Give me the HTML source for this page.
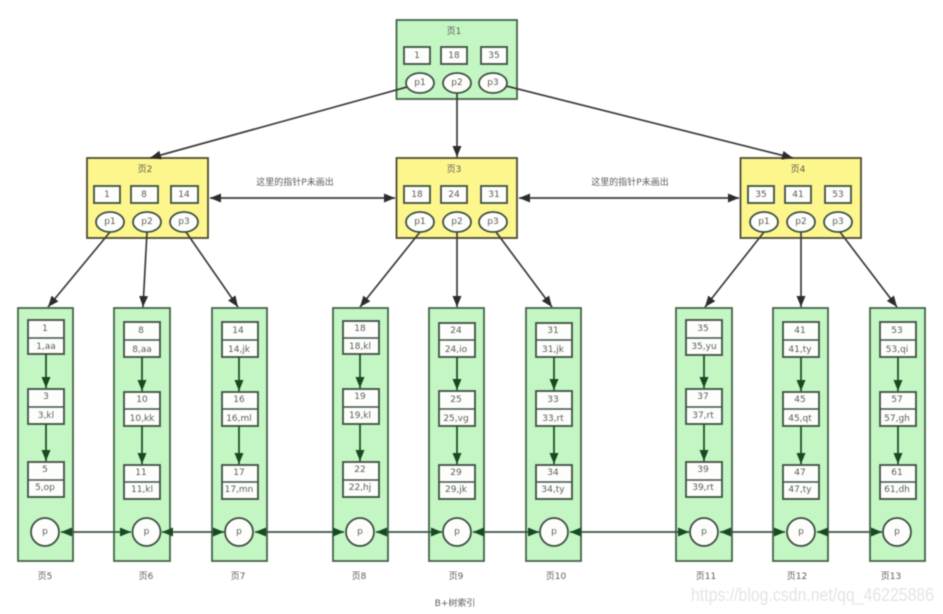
<!DOCTYPE html>
<html>
<head>
<meta charset="utf-8">
<style>
html,body{margin:0;padding:0;background:#fff;width:943px;height:614px;overflow:hidden}
svg{display:block;filter:blur(.55px)}
text{font-family:"DejaVu Sans","Noto Sans CJK SC",sans-serif;font-size:9px;fill:#5c5c5c;text-anchor:middle;dominant-baseline:central}
.g{fill:#c4f6c4;stroke:#446448;stroke-width:1.8}
.y{fill:#fdf68c;stroke:#4c4c34;stroke-width:1.8}
.b{fill:#fdfdfb;stroke:#3e5042;stroke-width:1.8}
.l{fill:none;stroke:#3e5444;stroke-width:1.4}
.a{fill:none;stroke:#3c3c3c;stroke-width:1.7;marker-end:url(#m)}
.d{fill:none;stroke:#3c3c3c;stroke-width:1.7;marker-start:url(#ms);marker-end:url(#m)}
.n{fill:none;stroke:#174a22;stroke-width:1.7;marker-end:url(#mg)}
.h{fill:none;stroke:#3a563f;stroke-width:1.7;marker-start:url(#mgs);marker-end:url(#mg)}
</style>
</head>
<body>
<svg width="943" height="614" viewBox="0 0 943 614" xmlns="http://www.w3.org/2000/svg">
<defs>
<marker id="m" markerWidth="12" markerHeight="9" refX="11" refY="4.5" orient="auto" markerUnits="userSpaceOnUse"><path d="M0 0L11 4.5L0 9z" fill="#2c2c2c"/></marker>
<marker id="ms" markerWidth="12" markerHeight="9" refX="0" refY="4.5" orient="auto" markerUnits="userSpaceOnUse"><path d="M11 0L0 4.5L11 9z" fill="#2c2c2c"/></marker>
<marker id="mg" markerWidth="12" markerHeight="9" refX="11" refY="4.5" orient="auto" markerUnits="userSpaceOnUse"><path d="M0 0L11 4.5L0 9z" fill="#174a22"/></marker>
<marker id="mgs" markerWidth="12" markerHeight="9" refX="0" refY="4.5" orient="auto" markerUnits="userSpaceOnUse"><path d="M11 0L0 4.5L11 9z" fill="#174a22"/></marker>
</defs>

<!-- Upper pages -->
<rect class="g" x="396.5" y="20" width="120.5" height="79"/>
<rect class="y" x="87" y="158" width="121" height="80"/>
<rect class="y" x="396.5" y="158" width="120.5" height="80"/>
<rect class="y" x="740.5" y="158" width="120.5" height="80"/>

<!-- Leaf pages -->
<rect class="g" x="18" y="308" width="55" height="253"/>
<rect class="g" x="114" y="308" width="56" height="253"/>
<rect class="g" x="212" y="308" width="55" height="253"/>
<rect class="g" x="333" y="308" width="55" height="253"/>
<rect class="g" x="429" y="308" width="55" height="253"/>
<rect class="g" x="526" y="308" width="55" height="253"/>
<rect class="g" x="676" y="308" width="56" height="253"/>
<rect class="g" x="773" y="308" width="55" height="253"/>
<rect class="g" x="870" y="308" width="55" height="253"/>

<!-- Connectors between levels -->
<path class="a" d="M407 87L150 158"/>
<path class="a" d="M457 93L457 157"/>
<path class="a" d="M506 86L793 158"/>
<path class="a" d="M110 232L48 307"/>
<path class="a" d="M147 232L143 307"/>
<path class="a" d="M186 232L238 307"/>
<path class="a" d="M420 232L360 307"/>
<path class="a" d="M457 232L457 307"/>
<path class="a" d="M496 232L552 307"/>
<path class="a" d="M764 232L705 307"/>
<path class="a" d="M801 232L801 307"/>
<path class="a" d="M840 232L897 307"/>
<path class="d" d="M210 198L395 198"/>
<path class="d" d="M519 198L739 198"/>

<text x="295" y="183">这里的指针P未画出</text>
<text x="630" y="183">这里的指针P未画出</text>

<!-- Page 1 -->
<text x="454" y="32">页1</text>
<rect class="b" x="404" y="47" width="26" height="17"/><text x="417" y="56">1</text>
<rect class="b" x="441" y="47" width="26" height="17"/><text x="454" y="56">18</text>
<rect class="b" x="481" y="47" width="26" height="17"/><text x="494" y="56">35</text>
<ellipse class="b" cx="420" cy="83" rx="14" ry="10"/><text x="420" y="83">p1</text>
<ellipse class="b" cx="457" cy="83" rx="14" ry="10"/><text x="457" y="83">p2</text>
<ellipse class="b" cx="493" cy="83" rx="14" ry="10"/><text x="493" y="83">p3</text>

<!-- Page 2 -->
<text x="145" y="170">页2</text>
<rect class="b" x="94" y="186" width="26" height="17"/><text x="107" y="195">1</text>
<rect class="b" x="131" y="186" width="27" height="17"/><text x="144" y="195">8</text>
<rect class="b" x="171" y="186" width="27" height="17"/><text x="184" y="195">14</text>
<ellipse class="b" cx="110" cy="222" rx="14" ry="10"/><text x="110" y="222">p1</text>
<ellipse class="b" cx="147" cy="222" rx="14" ry="10"/><text x="147" y="222">p2</text>
<ellipse class="b" cx="184" cy="222" rx="14" ry="10"/><text x="184" y="222">p3</text>

<!-- Page 3 -->
<text x="454" y="170">页3</text>
<rect class="b" x="404" y="186" width="26" height="17"/><text x="417" y="195">18</text>
<rect class="b" x="441" y="186" width="26" height="17"/><text x="454" y="195">24</text>
<rect class="b" x="481" y="186" width="26" height="17"/><text x="494" y="195">31</text>
<ellipse class="b" cx="420" cy="222" rx="14" ry="10"/><text x="420" y="222">p1</text>
<ellipse class="b" cx="457" cy="222" rx="14" ry="10"/><text x="457" y="222">p2</text>
<ellipse class="b" cx="493" cy="222" rx="14" ry="10"/><text x="493" y="222">p3</text>

<!-- Page 4 -->
<text x="798" y="170">页4</text>
<rect class="b" x="748" y="186" width="26" height="17"/><text x="761" y="195">35</text>
<rect class="b" x="785" y="186" width="26" height="17"/><text x="798" y="195">41</text>
<rect class="b" x="825" y="186" width="26" height="17"/><text x="838" y="195">53</text>
<ellipse class="b" cx="764" cy="222" rx="14" ry="10"/><text x="764" y="222">p1</text>
<ellipse class="b" cx="801" cy="222" rx="14" ry="10"/><text x="801" y="222">p2</text>
<ellipse class="b" cx="838" cy="222" rx="14" ry="10"/><text x="838" y="222">p3</text>

<!-- Page 5 -->
<rect class="b" x="28" y="320" width="36" height="34"/><path class="l" d="M28 338H64"/><text x="45" y="329">1</text><text x="46" y="347">1,aa</text>
<rect class="b" x="28" y="389" width="36" height="35"/><path class="l" d="M28 407H64"/><text x="46" y="397">3</text><text x="46" y="416">3,kl</text>
<rect class="b" x="28" y="462" width="36" height="35"/><path class="l" d="M28 480H64"/><text x="45" y="470">5</text><text x="45" y="488">5,op</text>
<path class="n" d="M46 354V388"/><path class="n" d="M46 424V461"/>

<!-- Page 6 -->
<rect class="b" x="124" y="322" width="36" height="35"/><path class="l" d="M124 340H160"/><text x="141" y="331">8</text><text x="142" y="350">8,aa</text>
<rect class="b" x="124" y="392" width="36" height="34"/><path class="l" d="M124 409H160"/><text x="142" y="400">10</text><text x="142" y="419">10,kk</text>
<rect class="b" x="124" y="465" width="36" height="34"/><path class="l" d="M124 482H160"/><text x="141" y="473">11</text><text x="142" y="490">11,kl</text>
<path class="n" d="M142 357V391"/><path class="n" d="M142 426V464"/>

<!-- Page 7 -->
<rect class="b" x="222" y="322" width="36" height="35"/><path class="l" d="M222 340H258"/><text x="238" y="331">14</text><text x="239" y="350">14,jk</text>
<rect class="b" x="222" y="392" width="36" height="34"/><path class="l" d="M222 409H258"/><text x="239" y="400">16</text><text x="239" y="419">16,ml</text>
<rect class="b" x="222" y="465" width="36" height="34"/><path class="l" d="M222 482H258"/><text x="239" y="473">17</text><text x="239" y="490">17,mn</text>
<path class="n" d="M239 357V391"/><path class="n" d="M239 426V464"/>

<!-- Page 8 -->
<rect class="b" x="343" y="321" width="36" height="33"/><path class="l" d="M343 338H379"/><text x="360" y="329">18</text><text x="360" y="347">18,kl</text>
<rect class="b" x="343" y="389" width="36" height="35"/><path class="l" d="M343 407H379"/><text x="360" y="397">19</text><text x="360" y="416">19,kl</text>
<rect class="b" x="343" y="462" width="36" height="35"/><path class="l" d="M343 480H379"/><text x="360" y="470">22</text><text x="360" y="488">22,hj</text>
<path class="n" d="M360 354V388"/><path class="n" d="M360 424V461"/>

<!-- Page 9 -->
<rect class="b" x="439" y="323" width="36" height="34"/><path class="l" d="M439 340H475"/><text x="456" y="331">24</text><text x="456" y="350">24,io</text>
<rect class="b" x="439" y="391" width="36" height="35"/><path class="l" d="M439 409H475"/><text x="456" y="400">25</text><text x="456" y="419">25,vg</text>
<rect class="b" x="439" y="465" width="36" height="34"/><path class="l" d="M439 482H475"/><text x="456" y="473">29</text><text x="456" y="490">29,jk</text>
<path class="n" d="M457 357V390"/><path class="n" d="M457 426V464"/>

<!-- Page 10 -->
<rect class="b" x="536" y="323" width="36" height="34"/><path class="l" d="M536 340H572"/><text x="553" y="331">31</text><text x="553" y="350">31,jk</text>
<rect class="b" x="536" y="391" width="36" height="35"/><path class="l" d="M536 409H572"/><text x="553" y="400">33</text><text x="553" y="419">33,rt</text>
<rect class="b" x="536" y="465" width="36" height="34"/><path class="l" d="M536 482H572"/><text x="553" y="473">34</text><text x="553" y="490">34,ty</text>
<path class="n" d="M554 357V390"/><path class="n" d="M554 426V464"/>

<!-- Page 11 -->
<rect class="b" x="686" y="320" width="36" height="35"/><path class="l" d="M686 338H722"/><text x="703" y="329">35</text><text x="704" y="347">35,yu</text>
<rect class="b" x="686" y="389" width="36" height="35"/><path class="l" d="M686 407H722"/><text x="703" y="397">37</text><text x="703" y="416">37,rt</text>
<rect class="b" x="686" y="462" width="36" height="35"/><path class="l" d="M686 480H722"/><text x="703" y="470">39</text><text x="703" y="488">39,rt</text>
<path class="n" d="M704 355V388"/><path class="n" d="M704 424V461"/>

<!-- Page 12 -->
<rect class="b" x="783" y="322" width="36" height="35"/><path class="l" d="M783 340H819"/><text x="800" y="331">41</text><text x="800" y="350">41,ty</text>
<rect class="b" x="783" y="392" width="36" height="34"/><path class="l" d="M783 409H819"/><text x="800" y="400">45</text><text x="800" y="419">45,qt</text>
<rect class="b" x="783" y="465" width="36" height="34"/><path class="l" d="M783 482H819"/><text x="800" y="473">47</text><text x="800" y="490">47,ty</text>
<path class="n" d="M801 357V391"/><path class="n" d="M801 426V464"/>

<!-- Page 13 -->
<rect class="b" x="880" y="322" width="36" height="35"/><path class="l" d="M880 340H916"/><text x="897" y="331">53</text><text x="897" y="350">53,qi</text>
<rect class="b" x="880" y="392" width="36" height="34"/><path class="l" d="M880 409H916"/><text x="897" y="400">57</text><text x="897" y="419">57,gh</text>
<rect class="b" x="880" y="465" width="36" height="34"/><path class="l" d="M880 482H916"/><text x="897" y="473">61</text><text x="897" y="490">61,dh</text>
<path class="n" d="M898 357V391"/><path class="n" d="M898 426V464"/>

<!-- Sibling links -->
<path class="h" d="M61 532H131"/>
<path class="h" d="M162 532H224"/>
<path class="h" d="M255 532H344"/>
<path class="h" d="M376 532H442"/>
<path class="h" d="M473 532H539"/>
<path class="h" d="M570 532H689"/>
<path class="h" d="M720 532H785"/>
<path class="h" d="M817 532H882"/>

<!-- P circles -->
<circle class="b" cx="45" cy="532" r="14"/><text x="45" y="532">p</text>
<circle class="b" cx="146.500" cy="532" r="14"/><text x="146.500" y="532">p</text>
<circle class="b" cx="239" cy="532" r="14"/><text x="239" y="532">p</text>
<circle class="b" cx="360" cy="532" r="14"/><text x="360" y="532">p</text>
<circle class="b" cx="457" cy="532" r="14"/><text x="457" y="532">p</text>
<circle class="b" cx="554" cy="532" r="14"/><text x="554" y="532">p</text>
<circle class="b" cx="704" cy="532" r="14"/><text x="704" y="532">p</text>
<circle class="b" cx="801" cy="532" r="14"/><text x="801" y="532">p</text>
<circle class="b" cx="897" cy="532" r="14"/><text x="897" y="532">p</text>

<!-- Leaf page names -->
<text x="45" y="577">页5</text>
<text x="146" y="577">页6</text>
<text x="238" y="577">页7</text>
<text x="359" y="577">页8</text>
<text x="456" y="577">页9</text>
<text x="556" y="577">页10</text>
<text x="706" y="577">页11</text>
<text x="797" y="577">页12</text>
<text x="891" y="577">页13</text>
<text x="455" y="604">B+树索引</text>

<!-- Watermark -->
<text x="691" y="595" textLength="243" lengthAdjust="spacingAndGlyphs" style="font-family:'Liberation Sans',sans-serif;font-size:18px;fill:#e4e4e4;text-anchor:start">https://blog.csdn.net/qq_46225886</text>
</svg>
</body>
</html>
